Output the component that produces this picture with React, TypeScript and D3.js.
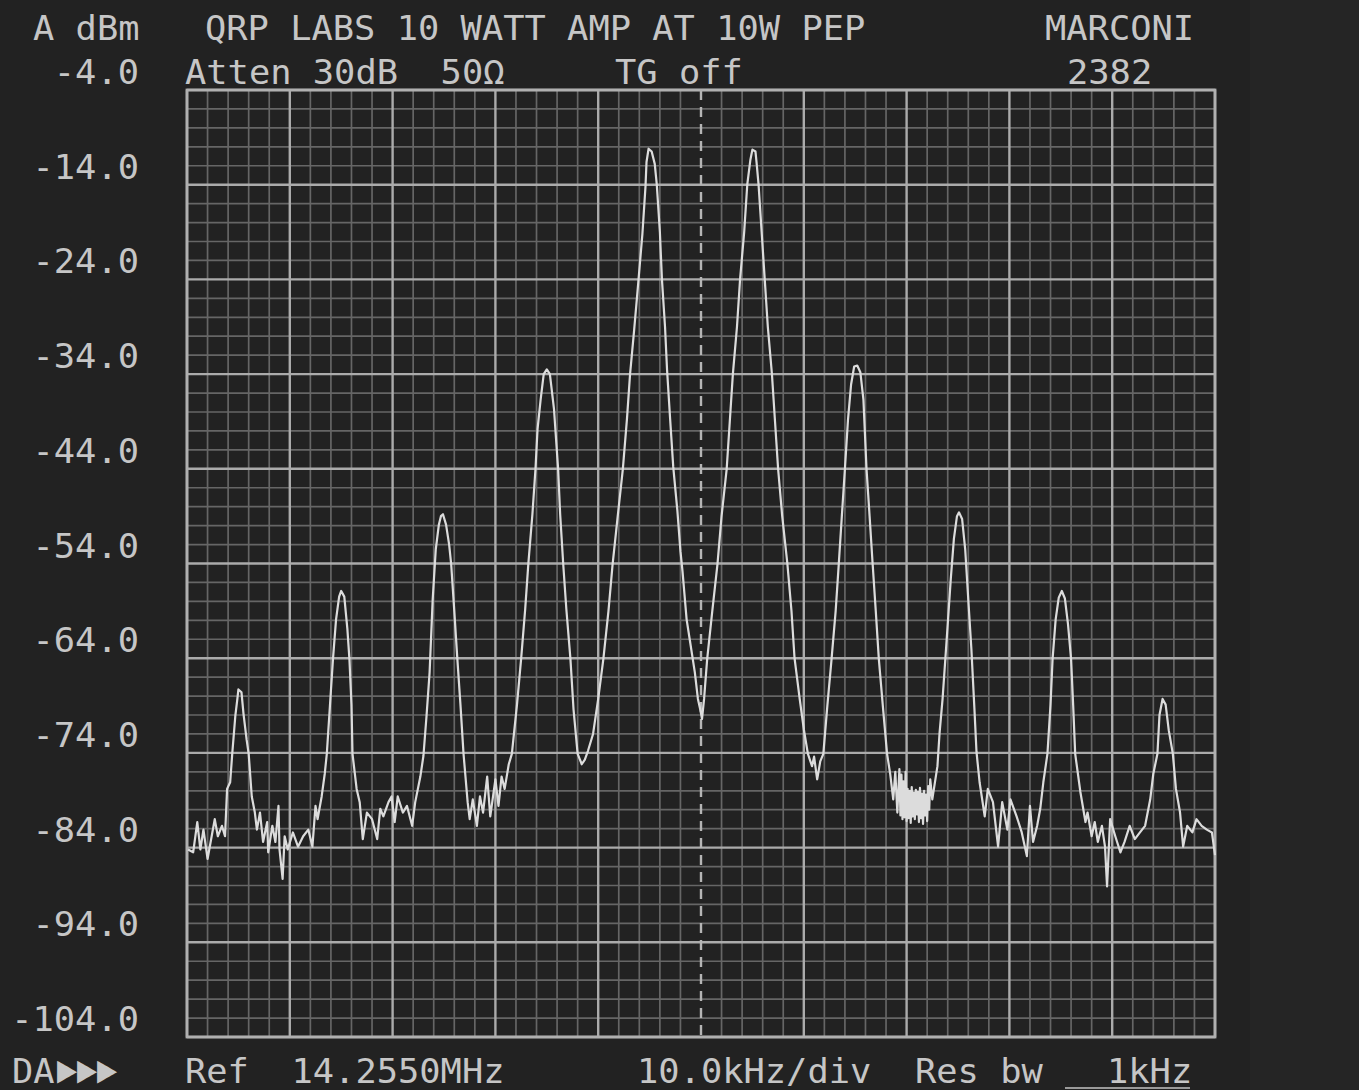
import React from "react";
import * as d3 from "d3";

// ---- Axis definitions (spectrum analyser screen) ----
const spanKHz: [number, number] = [-50, 50]; // offset from 14.2550 MHz, 10 kHz/div
const levelRange: [number, number] = [-104, -4]; // dBm
const yTickValues = [-4, -14, -24, -34, -44, -54, -64, -74, -84, -94, -104];

// ---- Screen annotations ----
const unitLabel = "A dBm";
const titleText = "QRP LABS 10 WATT AMP AT 10W PEP";
const makerText = "MARCONI";
const attenText = "Atten 30dB  50Ω";
const tgText = "TG off";
const modelText = "2382";
const modeText = "DA";
const modeArrows = "▶▶▶";
const refText = "Ref  14.2550MHz";
const spanText = "10.0kHz/div";
const resText = "Res bw";
const resValText = "1kHz";

// ---- Trace: [offset kHz, level dBm] ----
const traceSeg1: [number, number][] = [
  [-49.9, -84.2], [-49.4, -84.5], [-49.0, -81.3], [-48.7, -84.2], [-48.4, -82.1], [-48.0, -85.2],
  [-47.6, -82.8], [-47.3, -81.0], [-47.0, -82.8], [-46.6, -81.7], [-46.3, -82.8], [-46.1, -77.8],
  [-45.8, -77.1], [-45.6, -74.1], [-45.3, -70.1], [-45.1, -68.3], [-45.0, -67.3], [-44.7, -67.6],
  [-44.5, -69.9], [-44.2, -72.6], [-44.0, -74.1], [-43.7, -78.6], [-43.4, -80.3], [-43.2, -82.1],
  [-42.9, -80.3], [-42.6, -83.4], [-42.2, -81.3], [-42.1, -84.5], [-41.7, -81.7], [-41.4, -83.4],
  [-41.1, -79.6], [-41.0, -84.2], [-40.7, -87.3], [-40.5, -82.8], [-40.2, -84.2], [-39.7, -82.4],
  [-39.2, -83.9], [-38.7, -82.8], [-38.2, -82.1], [-37.8, -83.9], [-37.5, -79.6], [-37.3, -81.0],
  [-36.9, -78.6], [-36.6, -76.2], [-36.4, -74.1], [-36.1, -69.1], [-35.8, -64.1], [-35.5, -59.9],
  [-35.2, -57.5], [-35.0, -56.9], [-34.7, -57.5], [-34.4, -60.9], [-34.2, -64.1], [-34.0, -68.9],
  [-33.9, -74.1], [-33.5, -77.8], [-33.2, -79.2], [-32.9, -83.1], [-32.5, -80.3], [-32.0, -81.0],
  [-31.5, -83.1], [-31.2, -79.9], [-30.9, -80.7], [-30.4, -79.2], [-30.1, -78.6], [-29.8, -81.3],
  [-29.5, -78.6], [-29.0, -80.3], [-28.6, -79.6], [-28.1, -81.7], [-27.8, -79.2], [-27.3, -76.5],
  [-27.0, -74.3], [-26.7, -70.1], [-26.4, -65.5], [-26.1, -57.8], [-25.8, -52.5], [-25.5, -49.9],
  [-25.3, -49.0], [-25.1, -48.8], [-24.8, -49.9], [-24.5, -52.0], [-24.3, -54.1], [-24.0, -59.0],
  [-23.7, -64.1], [-23.4, -68.9], [-23.1, -74.1], [-22.7, -79.2], [-22.5, -81.0], [-22.2, -78.9],
  [-21.8, -81.7], [-21.5, -78.6], [-21.2, -80.3], [-20.8, -76.5], [-20.5, -80.7], [-20.0, -76.8],
  [-19.7, -79.6], [-19.4, -76.5], [-19.1, -77.8], [-18.7, -75.2], [-18.4, -74.1],
];

const traceSeg2: [number, number][] = [
  [-17.9, -68.9], [-17.5, -64.1], [-17.1, -58.8], [-16.8, -54.1], [-16.4, -48.8], [-16.1, -44.0],
  [-15.9, -39.8], [-15.6, -36.7], [-15.3, -34.0], [-15.0, -33.5], [-14.7, -34.0], [-14.3, -37.7],
  [-13.9, -44.0], [-13.7, -48.8], [-13.4, -54.1], [-13.1, -58.8], [-12.7, -64.1], [-12.4, -69.4],
  [-12.0, -74.1], [-11.6, -75.2], [-11.3, -74.7], [-11.0, -73.8], [-10.5, -72.0], [-10.0, -68.3],
  [-9.5, -64.1], [-9.0, -59.0], [-8.6, -54.1], [-8.1, -49.0], [-7.6, -44.0], [-7.2, -38.7],
  [-6.9, -34.0], [-6.5, -29.3], [-6.1, -24.3], [-5.7, -19.2], [-5.4, -14.2], [-5.3, -11.6],
  [-5.1, -10.2], [-4.8, -10.5], [-4.5, -11.8], [-4.3, -14.0], [-4.0, -19.0], [-3.8, -24.0],
  [-3.5, -29.0], [-3.3, -33.6], [-3.0, -38.8], [-2.7, -43.8], [-2.3, -48.4], [-2.0, -52.7],
  [-1.8, -54.8], [-1.4, -59.9], [-1.1, -62.0], [-0.8, -64.1], [-0.6, -65.5], [-0.3, -68.3],
  [-0.1, -69.3], [0.1, -70.4], [0.3, -68.3], [0.6, -64.1], [1.1, -59.0], [1.6, -54.1],
  [2.0, -49.0], [2.5, -44.0], [2.8, -39.0], [3.1, -34.0], [3.5, -29.0], [3.8, -24.0],
  [4.2, -19.0], [4.5, -14.0], [4.8, -11.4], [5.0, -10.3], [5.3, -10.5], [5.4, -11.6],
  [5.6, -14.0], [5.9, -19.0], [6.2, -24.0], [6.5, -29.0], [6.9, -34.0], [7.2, -39.0],
  [7.5, -44.0], [7.9, -49.0], [8.4, -54.0], [8.8, -59.0], [9.1, -64.0], [9.6, -68.3],
  [10.0, -71.5], [10.4, -74.1], [10.8, -75.4], [11.0, -74.4], [11.3, -76.8], [11.6, -74.9],
  [11.9, -74.1], [12.3, -68.9], [12.7, -64.1], [13.1, -59.0], [13.4, -54.1], [13.7, -49.0],
  [14.0, -44.0], [14.3, -38.8], [14.6, -35.1], [14.9, -33.2], [15.2, -33.1], [15.5, -33.8],
  [15.8, -36.7], [16.1, -44.0], [16.4, -49.0], [16.7, -54.1], [17.0, -59.0], [17.3, -64.1],
  [17.7, -69.2], [18.1, -74.1], [18.4, -76.2], [18.7, -78.9], [18.9, -76.0], [19.1, -80.3],
  [19.3, -75.7],
];

const traceSeg3: [number, number][] = [
  [19.4, -80.6], [19.5, -76.3], [19.6, -81.0], [19.7, -77.0], [19.8, -80.8], [19.9, -76.0],
  [20.0, -81.2], [20.1, -77.8], [20.2, -80.9], [20.3, -78.0], [20.4, -81.4], [20.5, -77.6],
  [20.6, -80.7], [20.7, -78.2], [20.8, -81.0], [20.9, -77.9], [21.0, -80.5], [21.1, -78.1],
  [21.2, -81.3], [21.3, -77.7], [21.4, -80.9], [21.5, -78.3], [21.6, -81.5], [21.7, -78.0],
  [21.8, -80.6], [21.9, -78.4], [22.0, -81.2], [22.1, -77.5], [22.2, -80.0], [22.3, -76.8],
];

const traceSeg4: [number, number][] = [
  [22.5, -78.9], [23.0, -75.4], [23.2, -72.0], [23.5, -68.3], [23.9, -62.0], [24.3, -55.6],
  [24.6, -51.4], [24.9, -49.0], [25.1, -48.6], [25.4, -49.3], [25.7, -52.5], [26.0, -57.8],
  [26.3, -63.0], [26.6, -69.4], [26.8, -73.9], [27.1, -77.1], [27.6, -80.7], [27.9, -77.8],
  [28.4, -79.2], [28.9, -83.9], [29.3, -79.2], [29.8, -82.1], [30.1, -78.9], [30.7, -80.7],
  [31.2, -82.4], [31.7, -84.9], [32.0, -79.6], [32.3, -83.4], [32.7, -81.7], [33.0, -79.9],
  [33.3, -77.1], [33.7, -74.1], [34.0, -68.9], [34.2, -64.1], [34.5, -59.9], [34.8, -57.6],
  [35.1, -56.9], [35.4, -57.7], [35.7, -60.4], [36.0, -64.1], [36.2, -68.9], [36.4, -74.1],
  [36.9, -78.1], [37.4, -81.3], [37.6, -80.3], [38.0, -82.8], [38.3, -81.3], [38.6, -83.4],
  [39.0, -81.7], [39.3, -83.9], [39.5, -88.1], [39.8, -81.0], [40.3, -82.8], [40.8, -84.5],
  [41.2, -83.4], [41.7, -81.7], [42.2, -83.1], [42.7, -82.4], [43.2, -81.7], [43.7, -78.9],
  [44.0, -76.2], [44.4, -74.1], [44.6, -70.0], [44.9, -68.3], [45.2, -68.9], [45.5, -71.6],
  [45.9, -74.1], [46.2, -77.8], [46.6, -80.3], [46.9, -83.9], [47.3, -81.7], [47.8, -82.4],
  [48.2, -81.0], [48.7, -81.7], [49.2, -82.1], [49.7, -82.4], [50.0, -84.8],
];

const W = 1359;
const H = 1090;
const FONT = "'DejaVu Sans Mono', 'Liberation Mono', monospace";
const CHAR_W = 21.3;
const TEXT = "#c6c6c6";

function ScreenText(props: {
  x: number;
  y: number;
  text: string;
  anchor?: "start" | "end";
  size?: number;
  width?: number;
}) {
  const { x, y, text, anchor = "start", size = 33, width } = props;
  return (
    <text
      x={x}
      y={y}
      fill={TEXT}
      fontFamily={FONT}
      fontSize={size}
      textAnchor={anchor}
      textLength={width ?? text.length * CHAR_W}
      lengthAdjust="spacingAndGlyphs"
      style={{ whiteSpace: "pre" }}
    >
      {text}
    </text>
  );
}

export default function App() {
  const x = d3.scaleLinear().domain(spanKHz).range([187, 1215]);
  const y = d3.scaleLinear().domain(levelRange).range([1037, 90]);

  const majorX = d3.range(spanKHz[0], spanKHz[1] + 0.001, 10);
  const minorX = d3.range(spanKHz[0], spanKHz[1] + 0.001, 2).filter((v) => Math.round(v) % 10 !== 0);
  const majorY = d3.range(levelRange[0], levelRange[1] + 0.001, 10);
  const minorY = d3
    .range(levelRange[0], levelRange[1] + 0.001, 2)
    .filter((v) => Math.round(v - levelRange[0]) % 10 !== 0);

  const trace = [...traceSeg1, ...traceSeg2, ...traceSeg3, ...traceSeg4];
  const line = d3
    .line<[number, number]>()
    .x((d) => x(d[0]))
    .y((d) => y(d[1]));

  const [x0, x1] = x.range();
  const [y1, y0] = y.range();

  return (
    <svg
      width={W}
      height={H}
      viewBox={`0 0 ${W} ${H}`}
      style={{ position: "absolute", left: 0, top: 0, display: "block" }}
    >
      <rect x={0} y={0} width={W} height={H} fill="#222222" />
      <rect x={1250} y={0} width={W - 1250} height={H} fill="#252525" />

      {/* minor grid */}
      <g stroke="#666666" strokeWidth={1.7}>
        {minorX.map((v) => (
          <line key={"mx" + v} x1={x(v)} x2={x(v)} y1={y0} y2={y1} />
        ))}
        {minorY.map((v) => (
          <line key={"my" + v} x1={x0} x2={x1} y1={y(v)} y2={y(v)} />
        ))}
      </g>

      {/* major grid */}
      <g stroke="#ababab" strokeWidth={2.4}>
        {majorX
          .filter((v) => v !== 0)
          .map((v) => (
            <line key={"Mx" + v} x1={x(v)} x2={x(v)} y1={y0} y2={y1} />
          ))}
        {majorY.map((v) => (
          <line key={"My" + v} x1={x0} x2={x1} y1={y(v)} y2={y(v)} />
        ))}
      </g>
      <line
        x1={x(0)}
        x2={x(0)}
        y1={y0}
        y2={y1}
        stroke="#b5b5b5"
        strokeWidth={2.4}
        strokeDasharray="10 7"
      />
      <rect x={x0} y={y0} width={x1 - x0} height={y1 - y0} fill="none" stroke="#b0b0b0" strokeWidth={2.8} />

      {/* trace */}
      <path d={line(trace) || ""} fill="none" stroke="#dcdcdc" strokeWidth={2.2} strokeLinejoin="round" />

      {/* level labels */}
      {yTickValues.map((v) => (
        <ScreenText key={"yl" + v} x={139} y={y(v) - 6} text={v.toFixed(1)} anchor="end" />
      ))}

      {/* header */}
      <ScreenText x={33} y={40} text={unitLabel} />
      <ScreenText x={205} y={40} text={titleText} />
      <ScreenText x={1045} y={40} text={makerText} />
      <ScreenText x={185} y={84} text={attenText} />
      <ScreenText x={615} y={84} text={tgText} />
      <ScreenText x={1067} y={84} text={modelText} />

      {/* footer */}
      <ScreenText x={12} y={1083} text={modeText} />
      <ScreenText x={57} y={1082} text={modeArrows} size={38} width={60} />
      <ScreenText x={185} y={1083} text={refText} />
      <ScreenText x={637} y={1083} text={spanText} />
      <ScreenText x={915} y={1083} text={resText} />
      <ScreenText x={1107} y={1083} text={resValText} />
      <line x1={1065} x2={1190} y1={1088} y2={1088} stroke="#9a9a9a" strokeWidth={2} />
    </svg>
  );
}
